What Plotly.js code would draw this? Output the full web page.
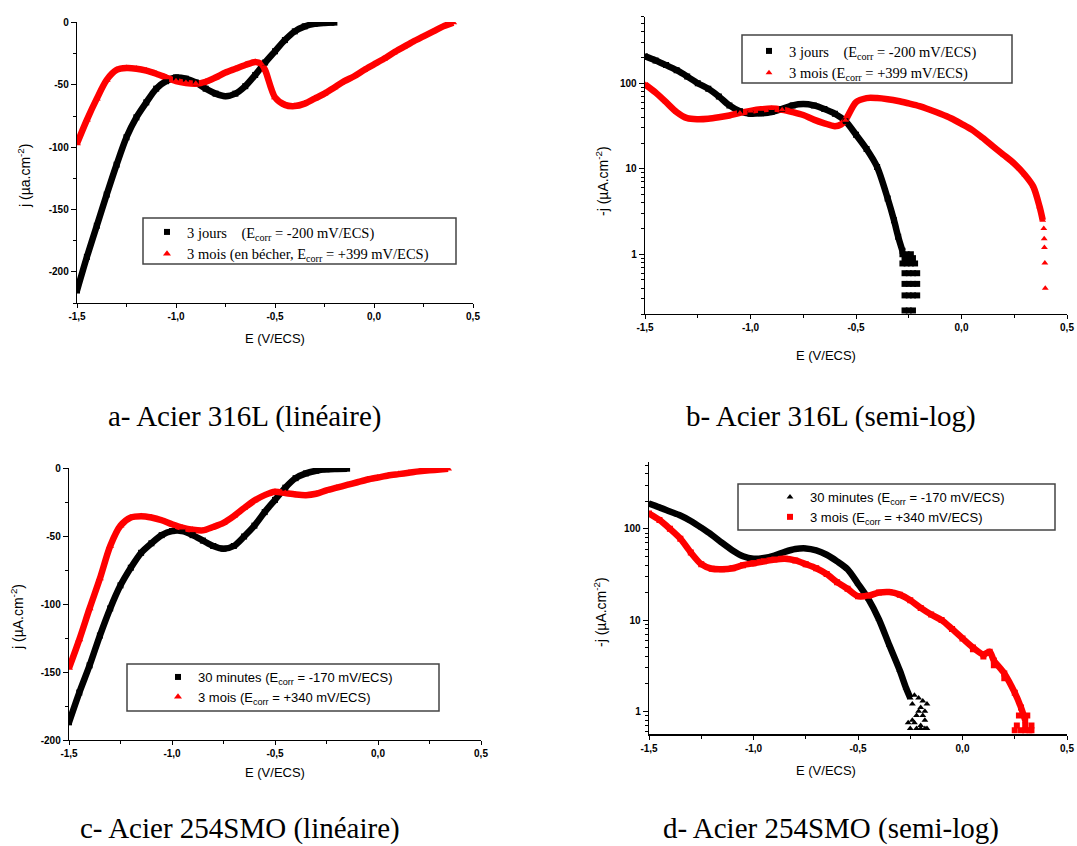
<!DOCTYPE html>
<html>
<head>
<meta charset="utf-8">
<script src="https://cdn.plot.ly/plotly-3.0.1.min.js"></script>
<style>html,body{margin:0;padding:0;background:#fff;}#chart{width:1077px;height:846px;}</style>
</head>
<body>
<div id="chart"></div>
<script>
// ---------- Panel a : Acier 316L (linéaire) ----------
const E_a_black = [-1.5,-1.45,-1.4,-1.35,-1.3,-1.25,-1.2,-1.15,-1.1,-1.05,-1.0,-0.95,-0.9,-0.85,-0.8,-0.75,-0.7,-0.65,-0.6,-0.55,-0.5,-0.45,-0.4,-0.35,-0.3,-0.25,-0.2];
const j_a_black = [-215,-188,-163,-138,-114,-92,-76,-64,-53,-47,-44,-45,-48,-53,-57,-59,-57,-51,-42,-32,-23,-14,-7,-3,-1,-0.3,0];
const E_a_red = [-1.5,-1.45,-1.4,-1.35,-1.3,-1.25,-1.2,-1.15,-1.1,-1.05,-1.0,-0.95,-0.9,-0.85,-0.8,-0.75,-0.7,-0.65,-0.6,-0.57,-0.55,-0.5,-0.45,-0.4,-0.35,-0.3,-0.25,-0.2,-0.15,-0.1,-0.05,0.0,0.05,0.1,0.15,0.2,0.25,0.3,0.35,0.4];
const j_a_red = [-97,-78,-61,-46,-38,-36.5,-37,-38.5,-41,-44,-47,-48.5,-49,-47.5,-44,-40,-37,-34,-31.5,-33,-38,-60,-66,-67,-65,-61,-57,-52,-47,-43,-38,-33.5,-29,-24,-19.5,-15,-11,-7,-3,0];

// ---------- Panel b : Acier 316L (semi-log) ----------
const E_b_black = [-1.5,-1.45,-1.4,-1.35,-1.3,-1.25,-1.2,-1.15,-1.1,-1.05,-1.0,-0.95,-0.9,-0.85,-0.8,-0.75,-0.7,-0.65,-0.6,-0.55,-0.5,-0.45,-0.4,-0.35,-0.32,-0.3,-0.28];
const v_b_black = [206,185,163,142,120,100,86,70,55,47,44,44.5,46,50,55,57,55,50,44,36,25,17,10.5,4.5,2.5,1.6,1.1];
const E_b_black_tail = [-0.28,-0.26,-0.24,-0.27,-0.25,-0.23,-0.28,-0.26,-0.24,-0.22,-0.27,-0.25,-0.23,-0.21,-0.27,-0.25,-0.23,-0.21,-0.27,-0.25,-0.23,-0.21,-0.27,-0.25,-0.23];
const v_b_black_tail = [1.0,1.0,1.0,0.9,0.9,0.9,0.78,0.78,0.78,0.78,0.6,0.6,0.6,0.6,0.45,0.45,0.45,0.45,0.33,0.33,0.33,0.33,0.22,0.22,0.22];
const E_b_red = [-1.5,-1.45,-1.4,-1.35,-1.3,-1.25,-1.2,-1.15,-1.1,-1.05,-1.0,-0.95,-0.9,-0.85,-0.8,-0.75,-0.7,-0.65,-0.6,-0.57,-0.55,-0.5,-0.45,-0.4,-0.35,-0.3,-0.25,-0.2,-0.15,-0.1,-0.05,0,0.05,0.1,0.15,0.2,0.25,0.3,0.34,0.37,0.385];
const v_b_red = [97,78,60,46,39,38,38.5,40,42,45,47.5,49.5,50.5,49,46,42.5,37.5,34,31.5,33,37,60,67,67,65,62,58,54,49,44,39,33.5,28.5,23,18.2,14.5,11.5,8.5,6.2,3.6,2.5];
const E_b_red_tail = [0.39,0.392,0.393,0.395,0.397];
const v_b_red_tail = [2.0,1.52,1.2,0.79,0.40];

// ---------- Panel c : Acier 254SMO (linéaire) ----------
const E_c_black = [-1.5,-1.45,-1.4,-1.35,-1.3,-1.25,-1.2,-1.15,-1.1,-1.05,-1.0,-0.95,-0.9,-0.85,-0.8,-0.75,-0.7,-0.65,-0.6,-0.55,-0.5,-0.45,-0.4,-0.35,-0.3,-0.25,-0.2,-0.15];
const j_c_black = [-187,-165,-145,-123,-103,-86,-73,-62,-55,-49,-46,-46,-49,-53,-57,-59,-57,-50,-42,-32,-23,-14,-7,-3.5,-1.5,-0.5,-0.2,0];
const E_c_red = [-1.5,-1.45,-1.4,-1.35,-1.3,-1.25,-1.2,-1.15,-1.1,-1.05,-1.0,-0.95,-0.9,-0.85,-0.8,-0.75,-0.7,-0.65,-0.6,-0.55,-0.5,-0.45,-0.4,-0.35,-0.3,-0.25,-0.2,-0.15,-0.1,-0.05,0,0.05,0.1,0.15,0.2,0.25,0.3,0.34];
const j_c_red = [-147,-126,-103,-81,-57,-42,-36,-35,-36,-38,-41,-43.5,-45,-45.5,-43,-40,-35,-29,-23.5,-19.5,-17,-18,-19,-19.5,-18.5,-16,-14,-12,-10,-8,-6.5,-5,-4,-3,-2,-1.2,-0.6,0];

// ---------- Panel d : Acier 254SMO (semi-log) ----------
const E_d_black = [-1.5,-1.45,-1.4,-1.35,-1.3,-1.25,-1.2,-1.15,-1.1,-1.05,-1.0,-0.95,-0.9,-0.85,-0.8,-0.75,-0.7,-0.65,-0.6,-0.55,-0.5,-0.45,-0.4,-0.35,-0.3,-0.27,-0.25];
const v_d_black = [189,172,155,140,122,103,86,70,58,50,47,48,51,56,60,61,58,52,44,36,25,17,10.2,5.3,2.8,1.8,1.4];
const E_d_black_tail = [-0.24,-0.23,-0.22,-0.21,-0.2,-0.19,-0.18,-0.17,-0.25,-0.22,-0.2,-0.18,-0.17,-0.24,-0.21,-0.19,-0.26,-0.23,-0.2,-0.18];
const v_d_black_tail = [1.2,1.5,0.9,1.4,0.7,1.3,0.8,1.2,0.65,0.65,0.65,0.65,0.65,0.8,1.0,0.9,0.75,0.75,1.1,1.0];
const E_d_red = [-1.5,-1.45,-1.4,-1.35,-1.3,-1.25,-1.2,-1.15,-1.1,-1.05,-1.0,-0.95,-0.9,-0.85,-0.8,-0.75,-0.7,-0.65,-0.6,-0.55,-0.5,-0.45,-0.4,-0.35,-0.3,-0.25,-0.2,-0.15,-0.1,-0.05,0,0.05,0.1,0.13,0.15,0.2,0.25,0.28,0.3];
const v_d_red = [147,125,100,78,55,41,36.5,36,37,40,42,44,46,47,45,41,37,32,26,22,18.3,18.5,20,20.3,19,16.5,13.6,11.5,10,8,6.3,5,4.2,4.5,3.6,2.6,1.6,1.1,0.8];
const E_d_red_tail = [0.25,0.28,0.3,0.32,0.33,0.26,0.3,0.33,0.27,0.31,0.1,0.15,0.2,0.05];
const v_d_red_tail = [0.62,0.62,0.62,0.62,0.62,0.7,0.7,0.7,0.9,0.9,4.0,3.2,2.3,4.8];

// ---------- Ticks & labels ----------
const xTickVals = [-1.5,-1.0,-0.5,0.0,0.5];
const xTickText = ['-1,5','-1,0','-0,5','0,0','0,5'];
const xMinorVals = [-1.25,-0.75,-0.25,0.25];
const linTickVals = [0,-50,-100,-150,-200];
const linTickText = ['0','-50','-100','-150','-200'];
const linMinorVals = [-25,-75,-125,-175,-225];
const logTickVals = [1,10,100];
const logTickText = ['1','10','100'];
const logMinorVals = [0.2,0.3,0.4,0.5,0.6,0.7,0.8,0.9,2,3,4,5,6,7,8,9,20,30,40,50,60,70,80,90,200,300,400,500,600];

const legendA = ['3 jours\u00a0\u00a0\u00a0\u00a0(E<sub>corr</sub> = -200 mV/ECS)', '3 mois (en bécher, E<sub>corr</sub> = +399 mV/ECS)'];
const legendB = ['3 jours\u00a0\u00a0\u00a0\u00a0(E<sub>corr</sub> = -200 mV/ECS)', '3 mois (E<sub>corr</sub> = +399 mV/ECS)'];
const legendC = ['30 minutes (E<sub>corr</sub> = -170 mV/ECS)', '3 mois (E<sub>corr</sub> = +340 mV/ECS)'];
const legendD = ['30 minutes (E<sub>corr</sub> = -170 mV/ECS)', '3 mois (E<sub>corr</sub> = +340 mV/ECS)'];
const captions = ['a- Acier 316L (linéaire)', 'b- Acier 316L (semi-log)', 'c- Acier 254SMO (linéaire)', 'd- Acier 254SMO (semi-log)'];

const BLACK = '#000000', RED = '#ff0000';
const W = 1077, H = 846;
const px = v => v / W, py = v => 1 - v / H;

function curve(x, y, color, xa, ya) {
  return {x: x, y: y, xaxis: xa, yaxis: ya, mode: 'lines', showlegend: false, hoverinfo: 'skip',
          line: {color: color, width: 6.5, shape: 'spline', smoothing: 0.8}};
}
function marks(x, y, color, sym, size, xa, ya, name, leg, show) {
  return {x: x, y: y, xaxis: xa, yaxis: ya, mode: 'markers', name: name, legend: leg, showlegend: show,
          marker: {color: color, symbol: sym, size: size}};
}

const traces = [
  curve(E_a_black, j_a_black, BLACK, 'x', 'y'),
  curve(E_a_red, j_a_red, RED, 'x', 'y'),
  marks(E_a_black, j_a_black, BLACK, 'square', 6, 'x', 'y', legendA[0], 'legend', true),
  marks(E_a_red, j_a_red, RED, 'triangle-up', 7, 'x', 'y', legendA[1], 'legend', true),

  curve(E_b_black, v_b_black, BLACK, 'x2', 'y2'),
  curve(E_b_red, v_b_red, RED, 'x2', 'y2'),
  marks(E_b_black.concat(E_b_black_tail), v_b_black.concat(v_b_black_tail), BLACK, 'square', 6, 'x2', 'y2', legendB[0], 'legend2', true),
  marks(E_b_red.concat(E_b_red_tail), v_b_red.concat(v_b_red_tail), RED, 'triangle-up', 6, 'x2', 'y2', legendB[1], 'legend2', true),

  curve(E_c_black, j_c_black, BLACK, 'x3', 'y3'),
  curve(E_c_red, j_c_red, RED, 'x3', 'y3'),
  marks(E_c_black, j_c_black, BLACK, 'square', 6, 'x3', 'y3', legendC[0], 'legend3', true),
  marks(E_c_red, j_c_red, RED, 'triangle-up', 7, 'x3', 'y3', legendC[1], 'legend3', true),

  curve(E_d_black, v_d_black, BLACK, 'x4', 'y4'),
  curve(E_d_red, v_d_red, RED, 'x4', 'y4'),
  marks(E_d_black.concat(E_d_black_tail), v_d_black.concat(v_d_black_tail), BLACK, 'triangle-up', 6, 'x4', 'y4', legendD[0], 'legend4', true),
  marks(E_d_red.concat(E_d_red_tail), v_d_red.concat(v_d_red_tail), RED, 'square', 6, 'x4', 'y4', legendD[1], 'legend4', true)
];

const tickFont = {family: 'Liberation Sans, Arial, sans-serif', size: 10, color: '#000', weight: 'bold'};
function xAxis(d0, d1, anchor) {
  return {domain: [px(d0), px(d1)], anchor: anchor, range: [-1.5, 0.5], showline: true, linecolor: '#000', linewidth: 1.3,
          showgrid: false, zeroline: false, ticks: 'outside', ticklen: 4, tickwidth: 1, tickcolor: '#000',
          tickmode: 'array', tickvals: xTickVals, ticktext: xTickText, tickfont: tickFont,
          minor: {tickmode: 'array', tickvals: xMinorVals, ticks: 'outside', ticklen: 3, tickcolor: '#000', showgrid: false}};
}
function yLin(d0, d1, anchor, r) {
  return {domain: [py(d1), py(d0)], anchor: anchor, range: r, showline: true, linecolor: '#000', linewidth: 1.3,
          showgrid: false, zeroline: false, ticks: 'outside', ticklen: 5, tickwidth: 1, tickcolor: '#000',
          tickmode: 'array', tickvals: linTickVals, ticktext: linTickText, tickfont: tickFont,
          minor: {tickmode: 'array', tickvals: linMinorVals, ticks: 'outside', ticklen: 3, tickcolor: '#000', showgrid: false}};
}
function yLog(d0, d1, anchor, r) {
  return {domain: [py(d1), py(d0)], anchor: anchor, type: 'log', range: r, showline: true, linecolor: '#000', linewidth: 1.3,
          showgrid: false, zeroline: false, ticks: 'outside', ticklen: 5, tickwidth: 1, tickcolor: '#000',
          tickmode: 'array', tickvals: logTickVals, ticktext: logTickText, tickfont: tickFont,
          minor: {tickmode: 'array', tickvals: logMinorVals, ticks: 'outside', ticklen: 3, tickcolor: '#000', showgrid: false}};
}

const serifLeg = {family: 'Liberation Serif, Times New Roman, serif', size: 14.5, color: '#000'};
const sansLeg = {family: 'Liberation Sans, Arial, sans-serif', size: 13, color: '#000'};
function leg(xp, yp, font) {
  return {x: px(xp), y: py(yp), xanchor: 'left', yanchor: 'top', bgcolor: 'rgba(0,0,0,0)', borderwidth: 0,
          font: font, tracegroupgap: 0};
}
function box(x0, y0, x1, y1) {
  return {type: 'rect', xref: 'paper', yref: 'paper', x0: px(x0), x1: px(x1), y0: py(y1), y1: py(y0),
          line: {color: '#444', width: 1.5}, fillcolor: 'rgba(0,0,0,0)'};
}

const titleFont = {family: 'Liberation Sans, Arial, sans-serif', size: 13, color: '#000'};
const yTitleFont = {family: 'Liberation Sans, Arial, sans-serif', size: 14, color: '#000'};
const capFont = {family: 'Liberation Serif, Times New Roman, serif', size: 29, color: '#000'};
function ann(text, x, y, font, angle) {
  return {text: text, x: px(x), y: py(y), xref: 'paper', yref: 'paper', showarrow: false,
          xanchor: 'center', yanchor: 'middle', font: font, textangle: angle || 0};
}

const layout = {
  width: W, height: H, margin: {l: 0, r: 0, t: 0, b: 0}, paper_bgcolor: '#fff', plot_bgcolor: 'rgba(0,0,0,0)',
  xaxis: xAxis(77, 473, 'y'),   yaxis: yLin(22, 303, 'x', [-225, 0.5]),
  xaxis2: xAxis(645, 1067, 'y2'), yaxis2: yLog(16.7, 314, 'x2', [Math.log10(0.2), Math.log10(600)]),
  xaxis3: xAxis(69, 481, 'y3'), yaxis3: yLin(468, 740, 'x3', [-200, 0.5]),
  xaxis4: xAxis(649, 1067, 'y4'), yaxis4: yLog(462, 734.3, 'x4', [Math.log10(0.56), Math.log10(540)]),
  legend: leg(147, 216, serifLeg),
  legend2: leg(749, 35, serifLeg),
  legend3: leg(158, 662, sansLeg),
  legend4: leg(770, 482, sansLeg),
  shapes: [box(143, 218, 456, 264), box(742, 35, 1012, 83), box(127, 664, 439, 711), box(738, 484, 1055, 530)],
  annotations: [
    ann('E (V/ECS)', 275, 338, titleFont), ann('E (V/ECS)', 826, 356, titleFont),
    ann('E (V/ECS)', 275, 772, titleFont), ann('E (V/ECS)', 826, 770, titleFont),
    ann('j (µa.cm<sup>-2</sup>)', 24, 176, yTitleFont, -90),
    ann('-j (µA.cm<sup>-2</sup>)', 602, 181, yTitleFont, -90),
    ann('j (µA.cm<sup>-2</sup>)', 17, 617, yTitleFont, -90),
    ann('-j (µA.cm<sup>-2</sup>)', 600, 612, yTitleFont, -90),
    ann(captions[0], 244, 416, capFont), ann(captions[1], 831, 416, capFont),
    ann(captions[2], 240, 828, capFont), ann(captions[3], 831, 828, capFont)
  ]
};

Plotly.newPlot('chart', traces, layout, {displayModeBar: false, staticPlot: true});
</script>
</body>
</html>
